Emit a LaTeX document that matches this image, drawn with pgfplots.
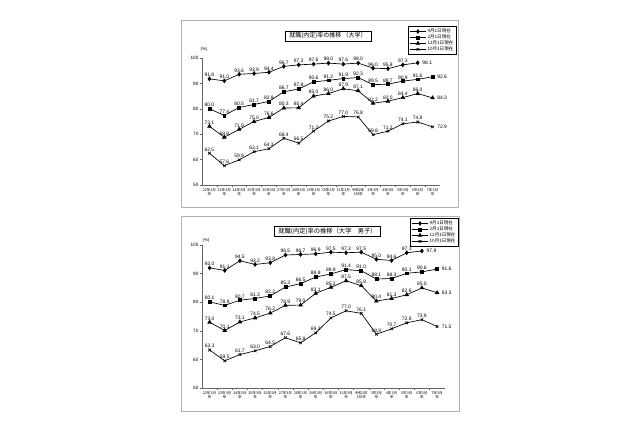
\documentclass[border=0pt]{standalone}
\usepackage{fontspec}
\setmainfont{Liberation Sans}
\newfontfamily\jp{Noto Sans CJK JP}
\usepackage{pgfplots}
\usepackage{pgfplotstable}
\pgfplotsset{compat=1.18}
\usetikzlibrary{shadows}

% columns: a = 4月1日, b = 2月1日, c = 12月1日, d = 10月1日 現在
\pgfplotstableread{
x a b c d
0 91.8 80.0 73.1 62.5
1 91.0 77.4 68.8 57.6
2 93.6 80.5 71.9 59.9
3 93.9 81.7 75.0 63.1
4 94.4 82.9 76.6 64.3
5 96.7 86.7 80.3 68.4
6 97.3 87.8 80.4 66.5
7 97.6 90.6 85.0 71.2
8 98.0 91.2 86.0 75.2
9 97.6 91.9 87.9 77.0
10 98.0 92.3 87.1 76.8
11 96.0 89.5 82.2 69.8
12 95.8 89.7 83.0 71.2
13 97.3 90.9 84.4 74.1
14 98.1 91.6 86.0 74.8
15 nan 92.6 84.3 72.9
}\zentai

\pgfplotstableread{
x a b c d
0 92.0 80.1 73.0 63.3
1 91.1 78.9 70.1 59.5
2 94.5 80.7 73.1 61.7
3 93.2 81.3 74.5 63.0
4 93.8 82.2 76.2 64.5
5 96.5 85.3 78.9 67.6
6 96.7 86.5 79.0 65.8
7 96.9 88.8 83.1 69.3
8 97.5 89.9 85.2 74.5
9 97.3 91.4 87.5 77.0
10 97.5 91.0 85.8 76.1
11 95.0 88.1 80.4 68.8
12 94.6 88.3 81.3 70.7
13 97.3 90.1 82.6 72.8
14 97.9 90.6 85.0 73.9
15 nan 91.6 83.3 71.5
}\danshi

\pgfplotsset{
  base/.style={
    scale only axis, anchor=south west,
    xmin=-0.5, xmax=15.5, ymin=50, ymax=100,
    axis lines*=left,
    axis line style={black!60, line width=0.4pt},
    ytick={50,60,...,100},
    xtick={0,...,15},
    minor x tick num=1,
    tick align=outside,
    major tick length=1.5pt, minor tick length=1.5pt,
    x tick style={draw=none},
    minor x tick style={black!60, line width=0.3pt, draw},
    y tick style={black!60, line width=0.3pt},
    /pgf/number format/assume math mode=true,
    yticklabel style={font=\fontsize{3.5}{4}\selectfont, inner sep=1pt},
    xticklabel style={font=\jp\fontsize{2.7}{3.1}\selectfont, align=center, inner sep=0.8pt},
    xticklabels={{22年3月\\卒},{23年3月\\卒},{24年3月\\卒},{25年3月\\卒},{26年3月\\卒},
      {27年3月\\卒},{28年3月\\卒},{29年3月\\卒},{30年3月\\卒},{31年3月\\卒},
      {令和2年\\3月卒},{3年3月\\卒},{4年3月\\卒},{5年3月\\卒},{6年3月\\卒},{7年3月\\卒}},
    legend style={anchor=north east, draw=black, line width=0.3pt,
      font=\jp\fontsize{3.4}{4}\selectfont, inner sep=1pt, row sep=-1.5pt,
      nodes={inner sep=0.8pt}},
    legend cell align=left,
    legend image code/.code={\draw[mark repeat=2,mark phase=2]
      plot coordinates {(0pt,0pt)(6.25pt,0pt)(12.5pt,0pt)};},
  },
  ser/.style={black, line width=0.5pt, mark options={solid},
    nodes near coords={\pgfmathprintnumber[fixed,fixed zerofill,precision=1,assume math mode=true]{\pgfplotspointmeta}},
    every node near coord/.append style={font=\fontsize{3.7}{4.2}\selectfont, inner sep=1.3pt, black},
    coordinate style/.condition={x>#1}{anchor=west, xshift=2pt}},
  s1/.style={ser=13.5, mark=diamond*, mark size=1.4pt},
  s2/.style={ser=14.5, mark=square*, mark size=1.1pt},
  s3/.style={ser=14.5, mark=triangle*, mark size=1.5pt},
  s4/.style={ser=14.5, mark=x, mark size=1.4pt},
}

\begin{document}
\begin{tikzpicture}
\fill[white] (0pt,0pt) rectangle (480pt,-319.5pt);

% frames
\draw[gray!60, line width=0.4pt, fill=white, drop shadow={shadow xshift=0.8pt, shadow yshift=-0.8pt, fill=gray!30}]
  (135.75pt,-15pt) rectangle (343.5pt,-155.25pt);
\draw[gray!60, line width=0.4pt, fill=white, drop shadow={shadow xshift=0.8pt, shadow yshift=-0.8pt, fill=gray!30}]
  (135.75pt,-162pt) rectangle (344.25pt,-308.25pt);

% chart 1
\begin{axis}[base, at={(151.5pt,-138.75pt)}, width=178.5pt, height=95.25pt,
  legend style={at={(1.067,1.252)}}]
\addplot[s1] table[x=x,y=a] {\zentai};
\addplot[s2] table[x=x,y=b] {\zentai};
\addplot[s3] table[x=x,y=c] {\zentai};
\addplot[s4] table[x=x,y=d] {\zentai};
\legend{4月1日現在,2月1日現在,12月1日現在,10月1日現在}
\end{axis}

% chart 2
\begin{axis}[base, at={(151.5pt,-291pt)}, width=182pt, height=107.25pt,
  legend style={at={(1.055,1.189)}}]
\addplot[s1] table[x=x,y=a] {\danshi};
\addplot[s2] table[x=x,y=b] {\danshi};
\addplot[s3] table[x=x,y=c] {\danshi};
\addplot[s4] table[x=x,y=d] {\danshi};
\legend{4月1日現在,2月1日現在,12月1日現在,10月1日現在}
\end{axis}

\node[draw=black, line width=0.3pt, fill=white, inner xsep=3pt, inner ysep=1.5pt,
  font=\jp\fontsize{4.5}{5}\selectfont,
  drop shadow={shadow xshift=0.6pt, shadow yshift=-0.6pt, fill=gray!60}]
  at (246pt,-27pt) {就職(内定)率の推移 （大学）};
\node[draw=black, line width=0.3pt, fill=white, inner xsep=3pt, inner ysep=1.5pt,
  font=\jp\fontsize{4.7}{5.2}\selectfont,
  drop shadow={shadow xshift=0.6pt, shadow yshift=-0.6pt, fill=gray!60}]
  at (245.6pt,-173.25pt) {就職(内定)率の推移（大学　男子）};

\node[font=\fontsize{3.2}{4}\selectfont, inner sep=0pt] at (153pt,-36.75pt) {(\%)};
\node[font=\fontsize{3.2}{4}\selectfont, inner sep=0pt] at (154.5pt,-180pt) {(\%)};
\end{tikzpicture}
\end{document}
